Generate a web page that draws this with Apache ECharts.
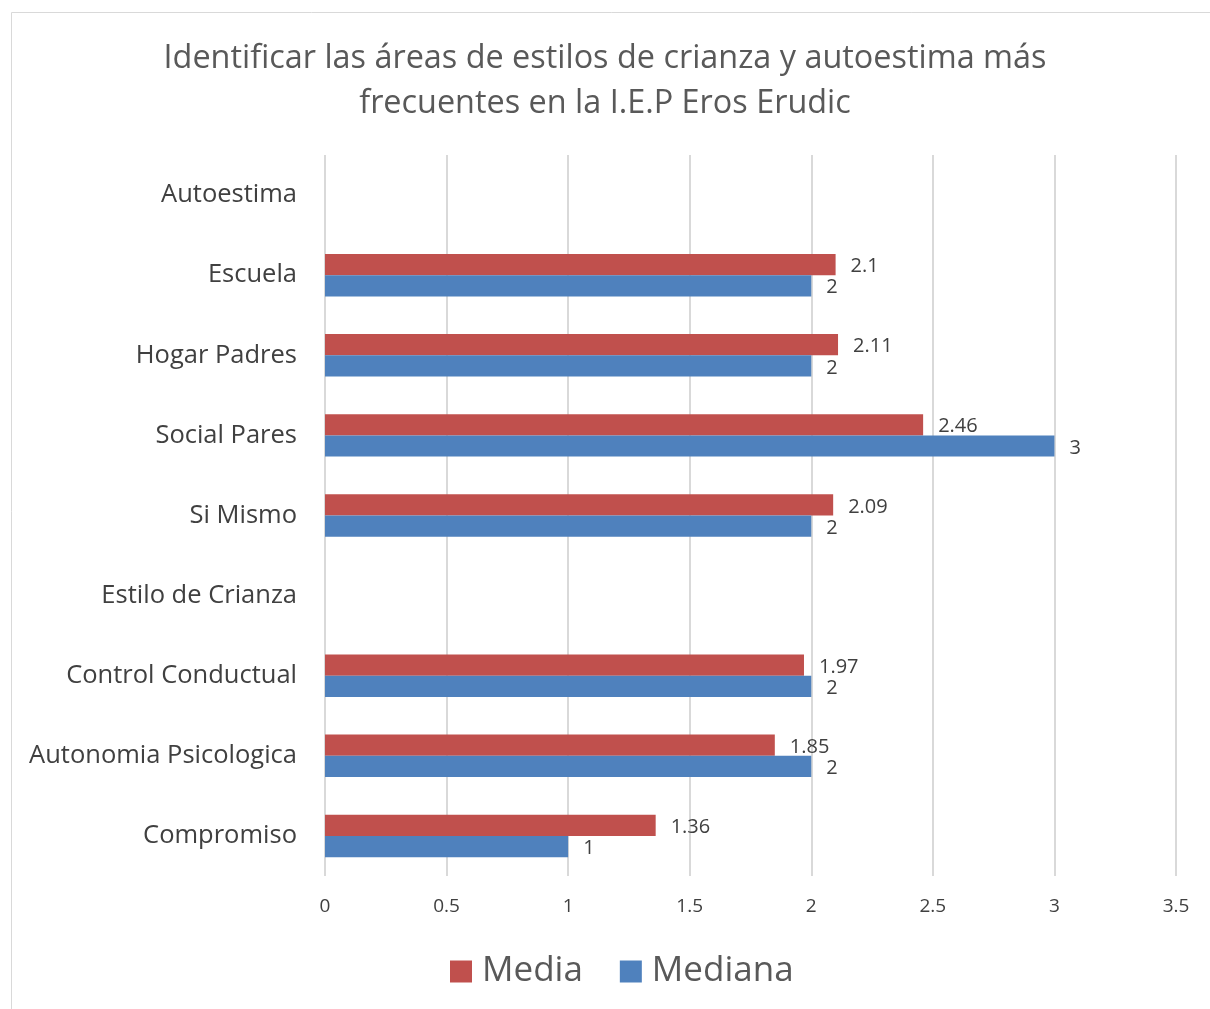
<!DOCTYPE html>
<html><head><meta charset="utf-8">
<script src="https://cdn.jsdelivr.net/npm/echarts@6/dist/echarts.min.js"></script>
<style>html,body{margin:0;padding:0;background:#fff}#c{width:1210px;height:1009px}</style>
</head><body><div id="c"></div>
<script>
const titleText = 'Identificar las áreas de estilos de crianza y autoestima más\nfrecuentes en la I.E.P Eros Erudic';
const categories = ['Compromiso','Autonomia Psicologica','Control Conductual','Estilo de Crianza','Si Mismo','Social Pares','Hogar Padres','Escuela','Autoestima'];
const media = [1.36, 1.85, 1.97, null, 2.09, 2.46, 2.11, 2.1, null];
const mediana = [1, 2, 2, null, 2, 3, 2, 2, null];
const xTicks = {min: 0, max: 3.5, interval: 0.5};
const FONT = '"Open Sans", Lato, sans-serif';
const chart = echarts.init(document.getElementById('c'));
const lbl = {show: true, position: 'right', distance: 15, color: '#404040', fontSize: 20, fontFamily: FONT, offset: [0, 2],
  formatter: p => (p.value == null ? '' : String(p.value))};
chart.setOption({
  animation: false,
  graphic: [{type: 'rect', shape: {x: 11.5, y: 12.5, width: 1400, height: 1200}, style: {fill: 'none', stroke: '#d9d9d9', lineWidth: 1}, silent: true, z: -1}],
  title: {text: titleText, left: 'center', top: 31,
    textStyle: {fontFamily: FONT, fontSize: 32.4, fontWeight: 'normal', color: '#595959', lineHeight: 45}},
  legend: {data: ['Media', 'Mediana'], left: 445, top: 949, itemWidth: 22, itemHeight: 22, itemGap: 37,
    icon: 'rect', textStyle: {fontFamily: FONT, fontSize: 35, color: '#595959', padding: [0, 0, 0, 5]}},
  grid: {left: 325, right: 34, top: 155, bottom: 133, containLabel: false},
  xAxis: {type: 'value', min: xTicks.min, max: xTicks.max, interval: xTicks.interval,
    axisLine: {show: false}, axisTick: {show: false},
    splitLine: {lineStyle: {color: '#d9d9d9', width: 2}},
    axisLabel: {color: '#404040', fontSize: 19, fontFamily: FONT, margin: 21}},
  yAxis: {type: 'category', data: categories,
    axisLine: {show: false}, axisTick: {show: false},
    axisLabel: {color: '#404040', fontSize: 25.5, fontFamily: FONT, margin: 28, padding: [3, 0, 0, 0]}},
  series: [
    {name: 'Media', type: 'bar', data: media, itemStyle: {color: '#C0504D'}, barGap: '0%', barCategoryGap: '47%', label: lbl},
    {name: 'Mediana', type: 'bar', data: mediana, itemStyle: {color: '#4F81BD'}, barGap: '0%', barCategoryGap: '47%', label: lbl}
  ]
});
</script></body></html>
